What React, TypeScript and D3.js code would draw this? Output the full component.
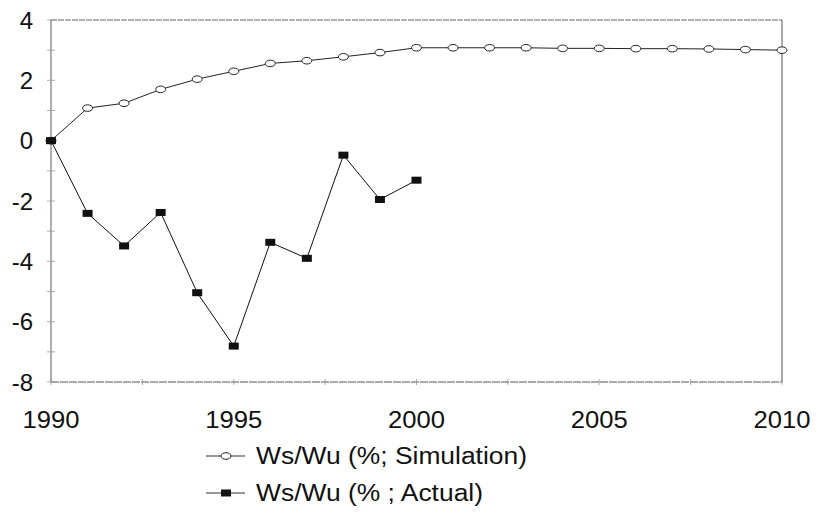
import * as d3 from 'd3'

const years = d3.range(1990, 2011)
const simulation = [0, 1.08, 1.24, 1.7, 2.04, 2.3, 2.56, 2.65, 2.78, 2.92, 3.08, 3.08, 3.08, 3.08, 3.06, 3.06, 3.05, 3.05, 3.04, 3.02, 3.0]
const actualYears = d3.range(1990, 2001)
const actual = [0, -2.41, -3.49, -2.38, -5.04, -6.81, -3.37, -3.9, -0.48, -1.95, -1.31]
const yTicks = [4, 2, 0, -2, -4, -6, -8]
const xTicks = [1990, 1995, 2000, 2005, 2010]
const legendLabels = ['Ws/Wu (%; Simulation)', 'Ws/Wu (% ; Actual)']

const W = 816
const H = 512
const left = 51
const right = 782
const top = 20
const bottom = 382
const font = '"Liberation Sans", Arial, sans-serif'

export default function App() {
  const x = d3.scaleLinear().domain([1990, 2010]).range([left, right])
  const y = d3.scaleLinear().domain([-8, 4]).range([bottom, top])

  const line = d3.line<[number, number]>().x(d => x(d[0])).y(d => y(d[1]))
  const simPts = years.map((yr, i) => [yr, simulation[i]] as [number, number])
  const actPts = actualYears.map((yr, i) => [yr, actual[i]] as [number, number])

  const minorY = d3.range(-8, 5, 1)
  const minorX = d3.range(1990, 2010.1, 2.5)

  return (
    <svg width={W} height={H} style={{ position: 'absolute', left: 0, top: 0, background: '#fff' }} fontFamily={font}>
      {/* frame */}
      <line x1={left} x2={right} y1={top} y2={top} stroke="#666" strokeWidth={1} strokeDasharray="6 1" />
      <line x1={right} x2={right} y1={top} y2={bottom} stroke="#555" strokeWidth={1} />
      <line x1={left} x2={left} y1={top} y2={bottom} stroke="#777" strokeWidth={1.2} />
      <line x1={left} x2={right} y1={bottom} y2={bottom} stroke="#555" strokeWidth={1} strokeDasharray="8 1" />

      {minorY.map(v => (
        <line key={'ty' + v} x1={left - 4} x2={left + 4} y1={y(v)} y2={y(v)} stroke="#999" strokeWidth={0.8} />
      ))}
      {minorX.map(v => (
        <line key={'tx' + v} x1={x(v)} x2={x(v)} y1={bottom - 3} y2={bottom + 3} stroke="#999" strokeWidth={0.8} />
      ))}

      {yTicks.map(v => (
        <text key={'ly' + v} x={33} y={y(v)} dy="0.36em" textAnchor="end" fontSize={24} fill="#111">
          {v}
        </text>
      ))}
      {xTicks.map(v => (
        <text key={'lx' + v} x={x(v)} y={419} dy="0.36em" textAnchor="middle" fontSize={24} fill="#111"
          textLength={57} lengthAdjust="spacingAndGlyphs">
          {v}
        </text>
      ))}

      {/* series */}
      <path d={line(simPts) ?? ''} fill="none" stroke="#222" strokeWidth={1} />
      {simPts.map(d => (
        <ellipse key={'s' + d[0]} cx={x(d[0])} cy={y(d[1])} rx={5} ry={3.3} fill="#fff" stroke="#222" strokeWidth={1} />
      ))}
      <path d={line(actPts) ?? ''} fill="none" stroke="#111" strokeWidth={1} />
      {actPts.map(d => (
        <rect key={'a' + d[0]} x={x(d[0]) - 5} y={y(d[1]) - 3.5} width={10} height={7} fill="#111" />
      ))}

      {/* legend */}
      <g transform="translate(206,456)">
        <line x1={0} x2={39} y1={0} y2={0} stroke="#333" strokeWidth={1} />
        <ellipse cx={20} cy={0} rx={5} ry={3.3} fill="#fff" stroke="#222" />
        <text x={50} y={0} dy="0.36em" fontSize={23} fill="#111" textLength={271} lengthAdjust="spacingAndGlyphs">{legendLabels[0]}</text>
      </g>
      <g transform="translate(206,493)">
        <line x1={0} x2={39} y1={0} y2={0} stroke="#333" strokeWidth={1} />
        <rect x={15} y={-3.5} width={10} height={7} fill="#111" />
        <text x={50} y={0} dy="0.36em" fontSize={23} fill="#111" textLength={227} lengthAdjust="spacingAndGlyphs">{legendLabels[1]}</text>
      </g>
    </svg>
  )
}
